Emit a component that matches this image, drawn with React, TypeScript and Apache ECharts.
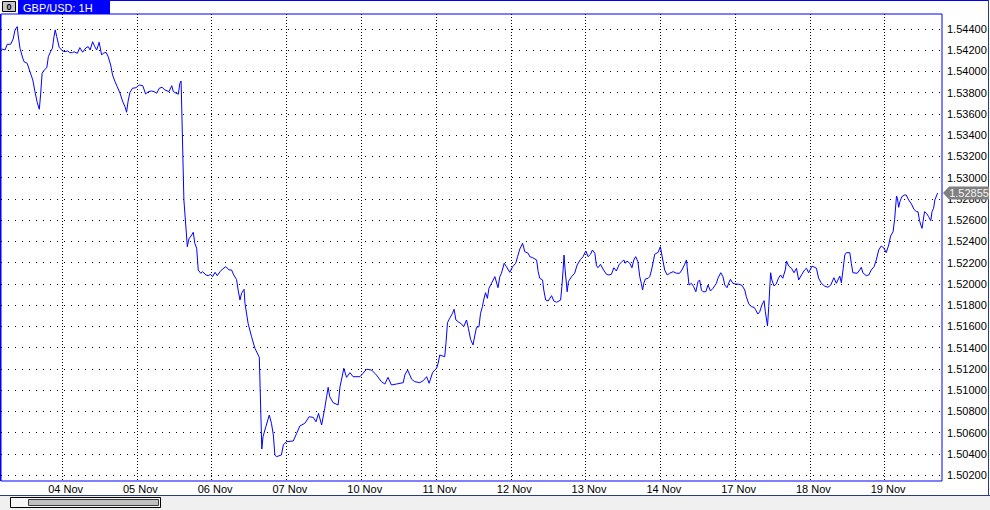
import React, { useEffect, useRef } from 'react';
import * as echarts from 'echarts';

// ---- data (hours counted from the first bar; GBP/USD hourly closes) ----
const dayLabels = ['04 Nov', '05 Nov', '06 Nov', '07 Nov', '10 Nov', '11 Nov', '12 Nov', '13 Nov', '14 Nov', '17 Nov', '18 Nov', '19 Nov'];
const firstDayHour = 19.6;
const hoursPerDay = 24;
const priceTicks = [1.502, 1.504, 1.506, 1.508, 1.51, 1.512, 1.514, 1.516, 1.518, 1.52, 1.522, 1.524, 1.526, 1.528, 1.53, 1.532, 1.534, 1.536, 1.538, 1.54, 1.542, 1.544];
const lastPrice = 1.52855;
const symbolName = 'GBP/USD: 1H';

const hours = [
  0.2, 1.3, 2.0, 3.1, 3.9, 4.5, 5.2, 5.5, 6.1, 7.0,
  7.4, 8.4, 9.3, 10.2, 10.9, 11.6, 12.3, 12.7, 13.2, 13.9,
  14.7, 15.2, 15.9, 16.5, 17.0, 17.4, 17.9, 18.7, 19.8, 20.6,
  21.4, 22.1, 23.0, 23.4, 24.5, 25.3, 26.2, 27.3, 28.0, 28.6,
  29.4, 30.1, 30.7, 31.5, 32.3, 32.8, 33.7, 34.4, 35.2, 35.8,
  36.6, 37.3, 38.2, 39.0, 39.8, 40.3, 40.8, 41.4, 42.2, 43.3,
  44.4, 45.5, 46.4, 47.3, 48.3, 49.1, 50.0, 50.8, 51.7, 52.6,
  53.9, 54.8, 55.3, 56.9, 57.4, 57.8, 58.7, 59.8, 60.3, 61.2,
  61.7, 62.2, 62.8, 63.3, 64.1, 64.7, 65.8, 66.5, 67.3, 67.9,
  68.7, 69.4, 70.3, 71.1, 72.2, 73.2, 74.0, 74.7, 75.6, 76.1,
  76.7, 77.2, 78.0, 78.3, 79.3, 80.4, 81.5, 82.9, 83.7, 84.1,
  85.0, 86.1, 86.8, 87.4, 87.9, 88.4, 90.0, 90.6, 91.6, 93.8,
  94.9, 95.9, 97.5, 98.9, 100.2, 101.1, 101.9, 102.9, 103.9, 104.5,
  105.0, 105.5, 106.6, 108.2, 108.8, 109.6, 110.0, 110.9, 112.0, 113.0,
  115.2, 116.2, 117.3, 118.9, 120.5, 122.1, 123.2, 124.2, 125.3, 126.9,
  129.1, 129.6, 130.5, 131.8, 132.8, 134.4, 135.5, 136.6, 137.4, 138.5,
  139.2, 139.8, 140.3, 140.8, 142.4, 142.8, 143.3, 144.0, 144.9, 145.4,
  146.0, 146.7, 147.8, 148.5, 149.4, 150.0, 150.7, 151.5, 152.1, 152.6,
  153.4, 153.9, 154.5, 154.9, 155.5, 156.1, 156.6, 157.4, 158.5, 159.5,
  160.1, 160.6, 161.5, 162.2, 163.3, 164.2, 165.2, 165.8, 166.5, 167.4,
  168.1, 169.2, 169.7, 170.6, 171.9, 172.4, 172.9, 173.8, 174.2, 174.8,
  175.6, 176.7, 177.4, 178.3, 179.6, 180.0, 180.4, 180.7, 181.0, 181.5,
  181.7, 182.1, 183.1, 184.1, 184.9, 186.0, 186.8, 187.7, 188.4, 189.2,
  189.8, 190.6, 191.1, 191.6, 192.4, 193.2, 194.3, 195.1, 195.9, 196.7,
  197.5, 198.4, 199.1, 199.9, 200.4, 200.9, 201.8, 202.5, 203.1, 203.7,
  204.4, 205.0, 205.5, 205.9, 206.3, 206.8, 207.7, 208.2, 208.7, 209.3,
  209.8, 210.9, 211.6, 212.5, 213.0, 213.8, 214.6, 215.7, 216.8, 217.8,
  218.7, 219.4, 220.0, 220.2, 220.8, 221.6, 222.3, 223.0, 223.7, 224.2,
  224.8, 225.3, 226.2, 226.9, 227.7, 228.5, 229.6, 230.1, 231.0, 231.7,
  232.3, 233.0, 233.6, 234.1, 234.9, 235.7, 236.8, 237.8, 238.7, 239.2,
  240.0, 240.8, 241.7, 242.1, 242.9, 243.5, 244.2, 244.9, 245.3, 246.0,
  246.4, 246.8, 247.0, 247.4, 248.1, 248.8, 249.5, 250.2, 250.9, 251.7,
  252.1, 252.8, 253.7, 254.5, 255.3, 256.0, 256.9, 257.9, 258.5, 259.2,
  260.3, 261.7, 262.4, 263.3, 264.3, 265.4, 266.3, 267.3, 268.1, 269.2,
  269.7, 270.3, 270.8, 271.3, 272.4, 272.9, 273.4, 274.8, 275.6, 276.1,
  276.6, 277.7, 278.5, 279.3, 280.2, 280.9, 281.7, 282.5, 283.4, 284.1,
  284.9, 285.5, 286.3, 286.8, 287.4, 287.7, 288.1, 288.5, 289.1, 290.0,
  290.5, 291.3, 292.2, 293.0, 293.8, 294.3, 294.8, 295.2, 295.6, 295.9,
  296.4, 297.0, 297.7, 298.4, 298.8, 299.3, 299.7, 300.6,
];

const prices = [
  1.54212, 1.54202, 1.54256, 1.54256, 1.54306, 1.54391, 1.54422, 1.54343, 1.54218, 1.54124,
  1.54092, 1.54077, 1.53998, 1.53920, 1.53810, 1.53710, 1.53644, 1.53779, 1.53983, 1.54014,
  1.54036, 1.54139, 1.54186, 1.54218, 1.54327, 1.54391, 1.54327, 1.54224, 1.54193, 1.54186,
  1.54193, 1.54177, 1.54177, 1.54186, 1.54171, 1.54224, 1.54181, 1.54224, 1.54233, 1.54202,
  1.54280, 1.54233, 1.54202, 1.54275, 1.54155, 1.54171, 1.54181, 1.54139, 1.54061, 1.53967,
  1.53904, 1.53857, 1.53795, 1.53722, 1.53668, 1.53616, 1.53722, 1.53804, 1.53842, 1.53847,
  1.53873, 1.53866, 1.53788, 1.53810, 1.53816, 1.53810, 1.53795, 1.53842, 1.53851, 1.53826,
  1.53810, 1.53866, 1.53810, 1.53785, 1.53889, 1.53910, 1.52790, 1.52350, 1.52423, 1.52460,
  1.52486, 1.52382, 1.52335, 1.52131, 1.52100, 1.52115, 1.52084, 1.52077, 1.52090, 1.52068,
  1.52109, 1.52077, 1.52115, 1.52140, 1.52162, 1.52131, 1.52131, 1.52084, 1.52041, 1.51942,
  1.51848, 1.51911, 1.51949, 1.51817, 1.51629, 1.51503, 1.51393, 1.51309, 1.50445, 1.50561,
  1.50655, 1.50765, 1.50687, 1.50577, 1.50389, 1.50373, 1.50389, 1.50483, 1.50514, 1.50521,
  1.50593, 1.50662, 1.50687, 1.50749, 1.50743, 1.50702, 1.50781, 1.50671, 1.50828, 1.50938,
  1.51026, 1.50938, 1.50881, 1.50860, 1.51032, 1.51142, 1.51205, 1.51120, 1.51164, 1.51126,
  1.51126, 1.51158, 1.51196, 1.51189, 1.51142, 1.51079, 1.51057, 1.51120, 1.51048, 1.51057,
  1.51070, 1.51142, 1.51189, 1.51102, 1.51079, 1.51070, 1.51088, 1.51126, 1.51064, 1.51164,
  1.51189, 1.51205, 1.51252, 1.51330, 1.51314, 1.51440, 1.51634, 1.51676, 1.51723, 1.51761,
  1.51660, 1.51644, 1.51622, 1.51597, 1.51660, 1.51582, 1.51478, 1.51425, 1.51519, 1.51591,
  1.51597, 1.51723, 1.51785, 1.51848, 1.51917, 1.51864, 1.51958, 1.52005, 1.52068, 1.51964,
  1.52068, 1.52100, 1.52194, 1.52162, 1.52109, 1.52162, 1.52194, 1.52256, 1.52328, 1.52382,
  1.52303, 1.52288, 1.52256, 1.52247, 1.52225, 1.52115, 1.52053, 1.52037, 1.51942, 1.51848,
  1.51839, 1.51889, 1.51839, 1.51827, 1.51848, 1.51973, 1.52131, 1.52272, 1.52147, 1.51989,
  1.51926, 1.52021, 1.52068, 1.52100, 1.52178, 1.52231, 1.52256, 1.52310, 1.52256, 1.52279,
  1.52319, 1.52288, 1.52171, 1.52152, 1.52184, 1.52140, 1.52090, 1.52084, 1.52090, 1.52152,
  1.52121, 1.52184, 1.52203, 1.52225, 1.52194, 1.52215, 1.52194, 1.52152, 1.52225, 1.52256,
  1.52209, 1.52068, 1.52005, 1.51942, 1.52005, 1.52046, 1.52053, 1.52068, 1.52121, 1.52203,
  1.52279, 1.52297, 1.52350, 1.52209, 1.52131, 1.52084, 1.52100, 1.52115, 1.52100, 1.52100,
  1.52140, 1.52184, 1.52225, 1.52162, 1.51989, 1.52005, 1.51973, 1.51926, 1.52021, 1.52037,
  1.51942, 1.51926, 1.51926, 1.51989, 1.51933, 1.51958, 1.52005, 1.52053, 1.52105, 1.52068,
  1.51989, 1.51964, 1.52011, 1.52043, 1.52005, 1.51999, 1.51996, 1.51987, 1.51942, 1.51879,
  1.51811, 1.51785, 1.51779, 1.51761, 1.51716, 1.51738, 1.51801, 1.51842, 1.51738, 1.51603,
  1.51785, 1.52005, 1.52105, 1.52037, 1.51980, 1.51999, 1.52053, 1.52084, 1.52053, 1.52131,
  1.52215, 1.52168, 1.52147, 1.52105, 1.52147, 1.52037, 1.52084, 1.52131, 1.52147, 1.52105,
  1.52168, 1.52147, 1.52053, 1.52005, 1.51980, 1.51968, 1.51989, 1.52058, 1.52005, 1.52074,
  1.52011, 1.52147, 1.52272, 1.52294, 1.52294, 1.52194, 1.52105, 1.52100, 1.52131, 1.52156,
  1.52105, 1.52077, 1.52084, 1.52131, 1.52162, 1.52225, 1.52319, 1.52357, 1.52335, 1.52294,
  1.52366, 1.52451, 1.52491, 1.52608, 1.52827, 1.52806, 1.52721, 1.52774, 1.52821, 1.52837,
  1.52837, 1.52790, 1.52752, 1.52702, 1.52680, 1.52680, 1.52595, 1.52554, 1.52523, 1.52585,
  1.52680, 1.52665, 1.52633, 1.52595, 1.52680, 1.52712, 1.52790, 1.52855,
];

const xMin = 0;
const xMax = 302;
const yMin = 1.50144;
const yMax = 1.54541;

const BLUE = '#0000ff';
const FRAME = '#2a3c7c';
const FONT = 'Liberation Sans, Arial, sans-serif';

export default function App() {
  const ref = useRef<HTMLDivElement>(null);

  useEffect(() => {
    if (!ref.current) return;
    const chart = echarts.init(ref.current, null, { renderer: 'svg' });
    const dayTicks = dayLabels.map((_, i) => firstDayHour + i * hoursPerDay);
    const data = hours.map((h, i) => [h, prices[i]]);

    chart.setOption({
      animation: false,
      backgroundColor: '#ffffff',
      grid: {
        left: 1,
        right: 48,
        top: 14,
        bottom: 29,
        show: true,
        borderColor: BLUE,
        borderWidth: 1,
        backgroundColor: 'transparent',
      },
      xAxis: {
        type: 'value',
        min: xMin,
        max: xMax,
        axisLine: { show: false },
        axisTick: { show: false, customValues: dayTicks },
        axisLabel: {
          customValues: dayTicks,
          formatter: (v: number) => dayLabels[Math.round((v - firstDayHour) / hoursPerDay)] ?? '',
          color: '#000',
          fontFamily: FONT,
          fontSize: 11,
          margin: 2,
          padding: [0, 0, 0, 7],
        },
        splitLine: { show: true, lineStyle: { color: '#000', width: 1, type: [1, 2] } },
      },
      yAxis: {
        type: 'value',
        position: 'right',
        min: yMin,
        max: yMax,
        axisLine: { show: false },
        axisTick: { show: false, customValues: priceTicks },
        axisLabel: {
          customValues: priceTicks,
          formatter: (v: number) => v.toFixed(5),
          color: '#000',
          fontFamily: FONT,
          fontSize: 11,
          margin: 5,
        },
        splitLine: { show: true, lineStyle: { color: '#000', width: 1, type: [1, 6] } },
      },
      series: [
        {
          type: 'line',
          data,
          showSymbol: false,
          symbol: 'none',
          lineStyle: { color: BLUE, width: 1 },
          clip: true,
          z: 3,
          markPoint: {
            silent: true,
            symbol: 'path://M0,6.5 L6,0 L46,0 L46,13 L6,13 Z',
            symbolSize: [46, 13],
            symbolKeepAspect: false,
            symbolOffset: [24, 0],
            itemStyle: { color: '#808080' },
            label: {
              show: true,
              position: 'inside',
              formatter: lastPrice.toFixed(5),
              color: '#f4f4f4',
              fontFamily: FONT,
              fontSize: 11,
              offset: [3, 0],
            },
            data: [{ coord: [xMax, lastPrice] }],
          },
        },
      ],
      graphic: [
        // header strip
        { type: 'line', shape: { x1: 110, y1: 0.5, x2: 989, y2: 0.5 }, style: { stroke: BLUE, lineWidth: 1 } },
        {
          type: 'rect',
          shape: { x: 2.5, y: 1.5, width: 13, height: 10 },
          style: { fill: '#c8c8c8', stroke: '#000', lineWidth: 1 },
        },
        {
          type: 'text',
          x: 9,
          y: 7,
          style: { text: '0', fill: '#000', font: 'bold 9px ' + FONT, align: 'center', verticalAlign: 'middle' },
        },
        { type: 'rect', shape: { x: 18, y: 0, width: 92, height: 14 }, style: { fill: BLUE } },
        {
          type: 'text',
          x: 23,
          y: 7.5,
          style: { text: symbolName, fill: '#ffffff', font: '11px ' + FONT, verticalAlign: 'middle' },
        },
        // thicker left frame edge
        { type: 'line', shape: { x1: 0.5, y1: 14, x2: 0.5, y2: 481 }, style: { stroke: BLUE, lineWidth: 1 } },
        // outer right edge
        { type: 'line', shape: { x1: 988.5, y1: 0, x2: 988.5, y2: 495 }, style: { stroke: FRAME, lineWidth: 1 } },
        // bottom status/scroll bar
        { type: 'rect', shape: { x: 0, y: 496, width: 990, height: 14 }, style: { fill: '#f0f0f0' } },
        { type: 'line', shape: { x1: 0, y1: 495.5, x2: 990, y2: 495.5 }, style: { stroke: FRAME, lineWidth: 1 } },
        {
          type: 'rect',
          shape: { x: 10.5, y: 497.5, width: 150, height: 10 },
          style: { fill: '#f6f6f6', stroke: '#000', lineWidth: 1 },
        },
        {
          type: 'rect',
          shape: { x: 28.5, y: 499.5, width: 130, height: 6 },
          style: { fill: '#c0c0c0', stroke: '#3a3a3a', lineWidth: 1 },
        },
      ],
    });

    return () => chart.dispose();
  }, []);

  return (
    <div
      ref={ref}
      style={{ position: 'absolute', left: 0, top: 0, width: 990, height: 510, background: '#fff' }}
    />
  );
}
